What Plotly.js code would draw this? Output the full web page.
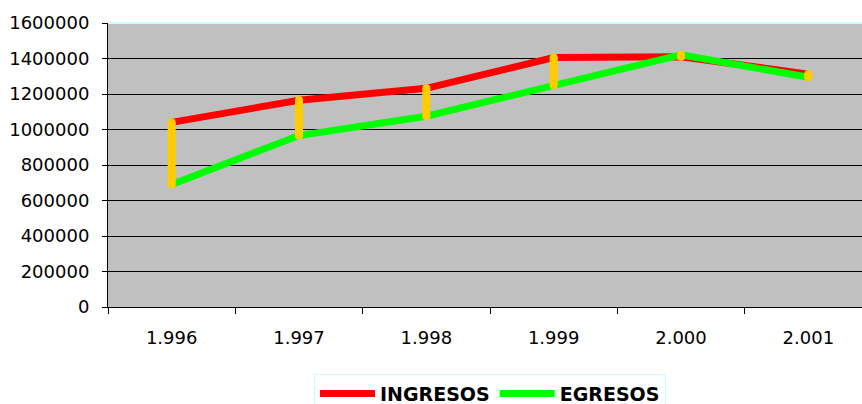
<!DOCTYPE html>
<html>
<head>
<meta charset="utf-8">
<script src="https://cdn.plot.ly/plotly-3.0.1.min.js"></script>
<style>
html,body{margin:0;padding:0;overflow:hidden;background:#fff;}
#chart{width:880px;height:404px;}
</style>
</head>
<body>
<div id="chart"></div>
<script>
const years = ["1.996", "1.997", "1.998", "1.999", "2.000", "2.001"];
const ingresos = [1040000, 1165000, 1232000, 1405000, 1410000, 1312000];
const egresos = [690000, 966000, 1075000, 1249000, 1421000, 1294000];
const seriesNames = ["INGRESOS", "EGRESOS"];

// high-low connectors built from the two series
const hlX = [], hlY = [];
years.forEach((y, i) => {
  hlX.push(y, y, null);
  hlY.push(ingresos[i], egresos[i], null);
});

const traces = [
  {x: years, y: ingresos, name: seriesNames[0], type: 'scatter', mode: 'lines',
   line: {color: '#FF0000', width: 7}},
  {x: years, y: egresos, name: seriesNames[1], type: 'scatter', mode: 'lines',
   line: {color: '#00FF00', width: 7}},
  {x: hlX, y: hlY, type: 'scatter', mode: 'lines+markers', showlegend: false,
   hoverinfo: 'skip', connectgaps: false,
   line: {color: '#FFCC00', width: 8},
   marker: {color: '#FFCC00', size: 8}}
];

const layout = {
  width: 880, height: 404,
  margin: {l: 108, r: 8, t: 23, b: 97},
  paper_bgcolor: '#FFFFFF',
  plot_bgcolor: '#C0C0C0',
  font: {family: 'DejaVu Sans, sans-serif', size: 18, color: '#000'},
  showlegend: true,
  xaxis: {
    type: 'category', range: [-0.5, 5.5], tickson: 'boundaries', automargin: false,
    ticks: 'outside', ticklen: 6, tickcolor: '#000', tickwidth: 1,
    showline: true, linecolor: '#000', linewidth: 1,
    showgrid: false, zeroline: false, ticklabelstandoff: 14,
    tickfont: {family: 'DejaVu Sans, sans-serif', size: 18, color: '#000'}
  },
  yaxis: {
    range: [0, 1600000], dtick: 200000, tick0: 0, tickformat: 'd', automargin: false,
    ticks: 'outside', ticklen: 5, tickcolor: '#000', tickwidth: 1,
    showline: true, linecolor: '#000', linewidth: 1,
    showgrid: true, gridcolor: '#000', gridwidth: 1, zeroline: false,
    ticklabelstandoff: 9,
    tickfont: {family: 'DejaVu Sans, sans-serif', size: 18, color: '#000'}
  },
  legend: {
    orientation: 'h', x: 0.5, xanchor: 'center',
    yref: 'container', y: 0.075, yanchor: 'top',
    bgcolor: '#FFFFFF', bordercolor: '#CCFFFF', borderwidth: 1,
    itemwidth: 55, tracegroupgap: 0,
    font: {family: 'DejaVu Sans, sans-serif', size: 19, color: '#000', weight: 'bold'}
  },
  shapes: [
    {type: 'line', xref: 'paper', yref: 'paper', x0: 0, x1: 1, y0: 1, y1: 1,
     line: {color: '#CCFFFF', width: 2}}
  ]
};

Plotly.newPlot('chart', traces, layout, {displayModeBar: false, staticPlot: true});
</script>
</body>
</html>
